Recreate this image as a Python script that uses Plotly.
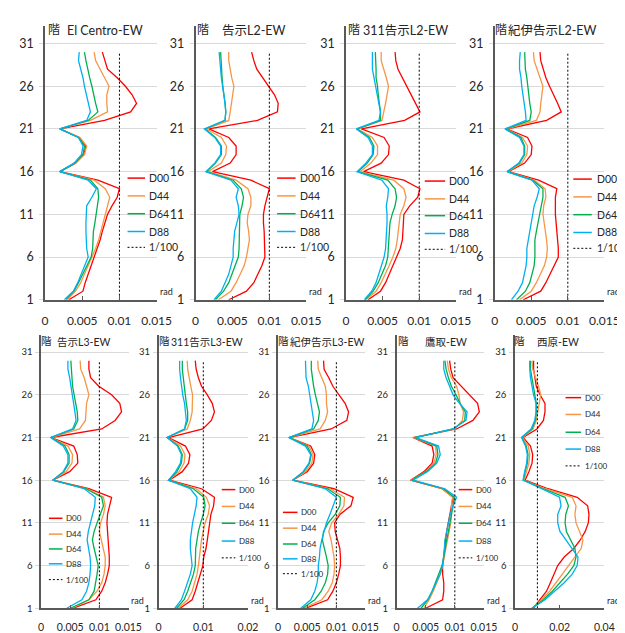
import plotly.graph_objects as go

W, H = 625, 633
FLOORS = list(range(1, 31))
SERIES = ["D00", "D44", "D64", "D88"]
COLORS = ["#FF0000", "#F79646", "#00B050", "#00B0F0"]
LIMIT_LABEL = "1/100"
LIMIT = 0.01
UNIT = 0.001  # values below are in units of 1/1000 rad

# ---- El Centro-EW
elc_d00 = [3.2,5.1,5.4,5.8,6.3,6.7,7.1,7.4,7.7,8.0,8.4,9.0,9.7,10.0,7.1,2.0,4.1,5.2,5.5,4.6,2.0,8.0,11.5,12.3,11.7,10.8,9.7,8.4,8.0,7.7]
elc_d44 = [3.0,4.1,4.8,5.3,5.8,6.4,6.8,7.2,7.5,7.8,8.1,8.4,8.7,8.1,6.6,2.0,4.1,5.3,5.6,4.7,2.0,6.1,8.4,8.3,8.3,8.6,8.0,7.4,6.8,6.6]
elc_d64 = [2.8,3.9,4.5,5.1,5.6,6.2,6.4,6.4,6.5,6.7,6.9,7.1,7.2,7.1,6.1,2.0,4.0,5.1,5.3,4.5,2.0,5.8,7.1,6.8,6.6,6.3,6.0,5.7,5.5,5.3]
elc_d88 = [2.6,3.8,4.4,4.9,5.3,5.8,5.6,5.5,5.5,5.5,5.5,5.6,6.3,6.9,5.8,2.0,3.9,4.9,5.1,4.5,2.0,5.6,6.1,5.8,5.6,5.3,5.1,4.8,4.5,4.6]
# ---- 告示L2-EW
l2_d00 = [4.5,6.9,7.9,8.5,9.0,9.4,9.4,9.4,9.3,9.2,9.2,9.4,9.7,10.0,7.5,2.3,4.7,5.5,5.5,4.5,1.8,8.4,11.1,11.2,10.7,9.9,9.1,8.3,7.9,7.6]
l2_d44 = [3.1,4.8,5.5,6.1,6.6,6.9,7.1,7.3,7.2,7.0,7.1,7.5,7.5,7.1,5.5,1.7,3.5,4.1,4.2,3.5,1.5,4.5,4.7,4.9,5.1,5.2,4.9,4.7,4.5,4.5]
l2_d64 = [2.7,3.8,4.5,4.9,5.3,5.8,5.9,5.9,5.9,5.9,6.0,6.3,6.5,6.2,5.1,1.5,2.7,3.5,3.5,2.7,1.3,4.0,4.1,4.0,3.9,3.7,3.6,3.5,3.4,3.4]
l2_d88 = [2.5,3.5,4.0,4.5,4.8,5.1,5.1,5.2,5.3,5.6,5.9,5.8,5.5,5.8,4.8,1.4,2.6,3.4,3.4,2.6,1.2,4.0,4.1,4.0,3.8,3.6,3.5,3.4,3.3,3.2]
# ---- 311告示L2-EW
s311l2_d00 = [3.0,4.7,5.4,5.9,6.5,7.0,7.4,7.7,7.8,7.8,7.9,8.7,9.8,10.1,7.9,2.4,4.8,5.8,5.9,5.2,2.1,8.0,10.1,9.5,8.9,8.3,7.6,7.1,6.8,6.7]
s311l2_d44 = [2.7,4.1,4.8,5.4,5.9,6.4,6.8,7.0,7.1,7.3,7.4,7.9,8.2,7.9,6.5,1.9,3.4,4.3,4.3,3.6,1.6,4.9,5.2,5.4,5.6,5.8,5.5,5.2,4.8,4.8]
s311l2_d64 = [2.6,3.7,4.4,4.9,5.4,5.7,5.8,5.9,5.9,6.0,6.3,6.7,6.9,6.7,5.7,1.6,2.9,3.7,3.8,3.2,1.5,4.7,4.7,4.5,4.4,4.3,4.1,4.1,4.0,4.0]
s311l2_d88 = [2.5,3.5,4.1,4.5,4.9,5.2,5.4,5.5,5.6,5.6,5.6,5.5,5.7,5.8,4.9,1.5,2.7,3.6,3.6,3.0,1.4,4.5,4.7,4.5,4.2,4.0,3.8,3.6,3.6,3.6]
# ---- 紀伊告示L2-EW
kiil2_d00 = [3.9,6.3,7.0,7.6,8.1,8.7,8.7,8.6,8.5,8.3,8.3,8.3,8.3,8.5,6.0,1.9,4.1,5.0,5.1,4.5,1.7,7.1,9.1,8.6,8.0,7.5,7.0,6.6,6.3,6.2]
kiil2_d44 = [3.4,5.0,5.7,6.3,6.8,7.1,7.2,7.1,6.9,6.7,6.6,6.7,7.0,6.9,5.4,1.8,3.7,4.4,4.5,3.8,1.6,5.7,6.2,6.3,6.4,6.6,6.2,5.8,5.4,5.3]
kiil2_d64 = [3.0,4.2,4.8,5.1,5.4,5.5,5.5,5.5,5.7,5.9,6.1,6.3,6.6,6.6,5.2,1.7,3.4,4.1,4.1,3.6,1.5,4.8,5.0,4.8,4.7,4.6,4.4,4.2,4.2,4.1]
kiil2_d88 = [2.3,3.2,3.8,4.1,4.3,4.4,4.4,4.6,4.8,5.0,5.2,5.4,5.8,6.1,5.1,1.7,3.3,4.0,4.0,3.4,1.4,4.3,4.2,4.0,3.9,3.7,3.6,3.4,3.4,3.5]
# ---- 告示L3-EW
l3_d00 = [5.4,9.4,10.4,11.0,11.4,11.7,11.7,11.6,11.4,11.3,11.3,11.4,11.8,12.1,8.2,2.0,4.9,6.3,6.2,5.6,1.7,10.4,12.7,13.8,13.5,12.1,9.9,8.5,8.2,8.2]
l3_d44 = [5.3,8.2,9.6,10.4,10.8,11.0,11.0,10.7,10.3,10.0,10.2,10.7,11.0,10.7,7.9,2.0,4.3,5.3,5.4,4.6,1.7,6.6,7.6,7.7,7.8,8.2,7.8,7.4,6.8,6.7]
l3_d64 = [5.0,8.2,9.1,9.4,9.6,9.8,9.4,9.1,8.8,9.1,9.6,10.2,10.7,10.4,7.7,2.0,3.9,4.8,4.8,4.1,1.7,5.6,6.3,6.2,5.9,5.6,5.4,5.3,5.2,5.1]
l3_d88 = [4.4,7.0,7.8,8.2,8.4,8.5,8.4,8.1,7.9,8.1,8.5,8.9,9.2,9.3,7.4,2.0,3.8,4.6,4.6,3.8,1.6,5.4,6.0,5.8,5.6,5.3,5.1,4.9,4.6,4.6]
# ---- 311告示L3-EW
s311l3_d00 = [4.8,7.5,8.2,8.8,9.3,9.9,10.1,10.6,10.9,11.2,11.4,11.7,12.3,12.5,9.6,2.4,5.3,6.7,7.0,6.0,2.2,9.9,11.8,12.5,12.0,10.9,9.6,8.9,8.4,8.2]
s311l3_d44 = [4.4,6.5,7.5,8.0,8.6,8.9,9.1,9.4,9.6,10.0,10.4,11.1,11.4,10.7,8.4,2.2,4.6,5.7,5.9,4.9,2.0,6.4,7.1,7.5,7.6,7.6,7.2,6.9,6.5,6.4]
s311l3_d64 = [4.0,5.7,6.5,7.2,7.8,8.2,8.3,8.3,8.6,8.9,9.4,10.0,10.4,10.1,7.8,2.2,4.1,5.1,5.3,4.4,1.9,5.8,6.5,6.5,6.2,6.0,5.8,5.5,5.3,5.3]
s311l3_d88 = [3.6,5.1,5.8,6.5,7.1,7.5,7.3,7.1,7.1,7.3,7.6,8.0,8.4,8.6,7.1,2.2,3.8,4.9,5.1,4.2,1.9,5.8,6.2,6.0,5.8,5.4,5.1,4.9,4.7,4.7]
# ---- 紀伊告示L3-EW
kiil3_d00 = [4.7,8.5,9.4,10.0,10.4,10.7,10.7,10.6,10.2,9.8,9.7,10.6,12.5,12.9,9.6,2.5,5.0,6.1,6.3,5.6,1.9,9.1,11.8,12.1,11.5,10.4,9.4,8.7,7.9,7.8]
kiil3_d44 = [4.4,7.5,8.6,9.3,9.6,9.7,9.6,9.4,9.1,8.7,9.2,10.4,11.3,11.4,8.9,2.5,4.7,5.8,6.0,5.3,1.9,7.2,8.1,8.5,8.3,8.3,8.1,7.5,6.9,6.8]
kiil3_d64 = [4.2,6.3,7.4,8.1,8.5,8.6,8.3,7.9,7.6,7.8,8.6,9.8,10.6,10.7,8.5,2.5,4.4,5.4,5.7,5.0,1.9,6.1,6.9,7.1,6.7,6.4,6.1,5.9,5.7,5.7]
kiil3_d88 = [3.9,5.6,6.3,6.7,6.9,6.9,7.1,7.2,7.5,7.9,8.3,8.9,9.4,10.0,8.1,2.5,4.3,5.3,5.6,4.7,1.8,5.8,6.1,5.9,5.7,5.4,5.2,4.8,4.7,4.7]
# ---- 鷹取-EW
tk_d00 = [5.0,7.9,8.1,8.1,7.9,7.9,8.1,8.2,8.4,8.6,8.9,9.2,9.4,9.7,7.8,2.4,4.7,6.1,6.4,6.1,2.8,10.3,13.1,14.2,13.9,12.5,11.1,9.7,9.3,9.1]
tk_d44 = [4.7,5.6,6.3,6.9,7.5,7.9,8.2,8.4,8.7,9.0,9.3,9.4,9.4,9.6,7.8,2.5,5.0,6.4,6.8,6.7,2.9,10.0,11.3,11.5,10.9,10.7,10.3,9.4,8.9,8.7]
tk_d64 = [4.2,5.4,6.1,6.7,7.3,7.8,8.1,8.3,8.6,8.9,9.2,9.4,9.7,9.9,8.1,2.6,5.1,6.7,7.1,6.9,3.1,9.7,11.7,11.8,10.9,10.2,9.4,8.9,8.5,8.3]
tk_d88 = [3.6,5.3,6.1,6.8,7.5,7.9,8.1,8.2,8.3,8.6,8.8,9.2,9.7,10.3,8.3,2.8,5.3,6.9,7.5,7.2,3.3,9.7,11.9,12.1,10.8,9.7,9.1,8.5,8.1,8.1]
# ---- 西原-EW
nh_d00 = [8.1,11.2,14.1,15.8,17.3,19.1,22.0,26.3,29.2,31.4,32.8,33.1,32.5,27.8,14.8,4.5,6.2,7.6,7.9,6.9,3.6,9.8,12.7,13.4,13.4,11.2,9.5,8.8,8.3,8.3]
nh_d44 = [7.6,11.9,15.5,18.4,21.3,23.9,26.8,29.6,30.4,28.8,27.3,26.8,27.3,25.6,13.4,4.0,5.2,6.2,6.6,5.9,3.3,8.1,9.5,10.2,10.9,11.5,10.5,9.1,7.9,7.6]
nh_d64 = [7.6,12.7,16.7,20.1,23.5,26.3,27.3,26.8,24.9,23.0,22.4,22.7,23.9,22.4,12.7,3.7,4.5,5.5,5.8,5.0,3.0,7.6,9.1,9.5,9.5,8.8,8.1,7.3,6.9,6.9]
nh_d88 = [7.6,13.4,17.7,22.0,25.6,27.8,28.2,25.6,22.7,20.1,19.1,19.1,20.6,19.9,11.9,3.6,4.3,5.2,5.5,4.7,2.9,7.2,8.8,9.4,9.4,8.3,7.6,6.9,6.6,6.5]

TITLES = ["El Centro-EW", "告示L2-EW", "311告示L2-EW", "紀伊告示L2-EW",
          "告示L3-EW", "311告示L3-EW", "紀伊告示L3-EW", "鷹取-EW", "西原-EW"]
DATA = [
    [elc_d00, elc_d44, elc_d64, elc_d88],
    [l2_d00, l2_d44, l2_d64, l2_d88],
    [s311l2_d00, s311l2_d44, s311l2_d64, s311l2_d88],
    [kiil2_d00, kiil2_d44, kiil2_d64, kiil2_d88],
    [l3_d00, l3_d44, l3_d64, l3_d88],
    [s311l3_d00, s311l3_d44, s311l3_d64, s311l3_d88],
    [kiil3_d00, kiil3_d44, kiil3_d64, kiil3_d88],
    [tk_d00, tk_d44, tk_d64, tk_d88],
    [nh_d00, nh_d44, nh_d64, nh_d88],
]
X_MAX = [0.015, 0.015, 0.015, 0.015, 0.015, 0.02, 0.015, 0.015, 0.04]
X_TICKS = [
    ["0", "0.005", "0.01", "0.015"]] * 5 + [["0", "0.01", "0.02"]] + \
    [["0", "0.005", "0.01", "0.015"]] * 2 + [["0", "0.02", "0.04"]]
Y_TICKS = [1, 6, 11, 16, 21, 26, 31]
Y_RANGE = [1, 33]

# ---- layout (pixel geometry of each panel)
# plot box: x_left, x_right, y_top, y_bottom
ROW1 = (18.7, 295)
ROW2 = (330.7, 607)
BOX = [(35, 150) + ROW1, (190, 304) + ROW1, (345, 458) + ROW1, (498, 611) + ROW1,
       (31, 121) + ROW2, (152, 244) + ROW2, (275, 365) + ROW2, (397, 487) + ROW2, (519, 611) + ROW2]
# legend: line x0, line x1, text x, row y's
LEG = [
    (120, 138, 140, [172, 190, 208, 226, 242]),
    (274, 293, 295, [172, 190, 208, 226, 242]),
    (426, 447, 449, [175, 193, 210, 228, 244]),
    (579, 598, 601, [173, 191, 209, 227, 243]),
    (39, 53, 55, [516, 532, 547, 562, 578]),
    (217, 231, 233, [487, 504, 521, 539, 556]),
    (280, 295, 297, [510, 526, 542, 557, 572]),
    (461, 475, 477, [487, 504, 521, 539, 556]),
    (571, 587, 589, [394, 411, 429, 446, 463]),
]
KAI_X = [44, 198, 353, 505, 37, 158, 281, 404, 524]
TITLE_X = [97, 250, 406, 558, 75, 202, 325, 448, 563]

FONT = "Lato, Noto Sans CJK JP, sans-serif"
AXIS_COLOR = "#595959"
GRID_COLOR = "#D9D9D9"
TEXT_COLOR = "#262626"


def fx(p):
    return p / W


def fy(p):
    return 1 - p / H


fig = go.Figure()
layout = dict(width=W, height=H, margin=dict(l=0, r=0, t=0, b=0),
              paper_bgcolor="white", plot_bgcolor="white", showlegend=False,
              font=dict(family=FONT, color=TEXT_COLOR))
annotations = []
shapes = []

for i in range(9):
    n = "" if i == 0 else str(i + 1)
    xa, ya = "x" + n, "y" + n
    top = i < 4
    x0, x1, yt, yb = BOX[i]
    for k, vals in enumerate(DATA[i]):
        fig.add_trace(go.Scatter(
            x=[v * UNIT for v in vals], y=FLOORS, mode="lines", name=SERIES[k],
            line=dict(color=COLORS[k], width=1.3), xaxis=xa, yaxis=ya))
    fig.add_trace(go.Scatter(
        x=[LIMIT, LIMIT], y=[FLOORS[0], FLOORS[-1]], mode="lines", name=LIMIT_LABEL,
        line=dict(color="black", width=1, dash="2px,2px"), xaxis=xa, yaxis=ya))

    tv = [float(t) for t in X_TICKS[i]]
    layout["xaxis" + n] = dict(
        domain=[fx(x0), fx(x1)], anchor=ya, range=[0, X_MAX[i]],
        tickvals=tv, ticktext=X_TICKS[i], showgrid=False, zeroline=False,
        showline=True, linecolor=AXIS_COLOR, linewidth=1.5,
        ticks="inside", ticklen=4, tickcolor=AXIS_COLOR, tickwidth=1,
        ticklabelstandoff=9 if top else 8,
        tickfont=dict(size=12 if top else 10.5, family=FONT, color=TEXT_COLOR))
    layout["yaxis" + n] = dict(
        domain=[fy(yb), fy(yt)], anchor=xa, range=Y_RANGE,
        tickvals=Y_TICKS, showgrid=True, gridcolor=GRID_COLOR, gridwidth=1,
        zeroline=False, showline=True, linecolor=AXIS_COLOR, linewidth=1.5,
        ticks="outside", ticklen=4, tickcolor=GRID_COLOR,
        ticklabelstandoff=3 if top else 1,
        tickfont=dict(size=12.5 if top else 9.5, family=FONT, color=TEXT_COLOR))

    # axis annotations
    ytxt = 22 if top else 337
    annotations.append(dict(x=fx(KAI_X[i]), y=fy(ytxt), xref="paper", yref="paper",
                            text="階", showarrow=False, xanchor="center", yanchor="middle",
                            font=dict(size=12 if top else 10.5, family=FONT)))
    annotations.append(dict(x=fx(TITLE_X[i]), y=fy(ytxt + 1), xref="paper", yref="paper",
                            text=TITLES[i], showarrow=False, xanchor="center", yanchor="middle",
                            font=dict(size=12.5 if top else 10.5, family=FONT)))
    annotations.append(dict(x=fx(x1 + 1), y=fy(yb - 8), xref="paper", yref="paper",
                            text="rad", showarrow=False, xanchor="left", yanchor="middle",
                            font=dict(size=9, family=FONT)))

    # legend
    lx0, lx1, tx, rows = LEG[i]
    labels = SERIES + [LIMIT_LABEL]
    cols = COLORS + ["black"]
    for k in range(5):
        shapes.append(dict(type="line", xref="paper", yref="paper",
                           x0=fx(lx0), x1=fx(lx1), y0=fy(rows[k]), y1=fy(rows[k]),
                           line=dict(color=cols[k], width=1.5 if k < 4 else 1,
                                     dash="solid" if k < 4 else "2px,2px")))
        annotations.append(dict(x=fx(tx), y=fy(rows[k]), xref="paper", yref="paper",
                                text=labels[k], showarrow=False, xanchor="left", yanchor="middle",
                                font=dict(size=10.5 if top else 8, family=FONT)))

layout["annotations"] = annotations
layout["shapes"] = shapes
fig.update_layout(**layout)
fig.write_html("out.html")
